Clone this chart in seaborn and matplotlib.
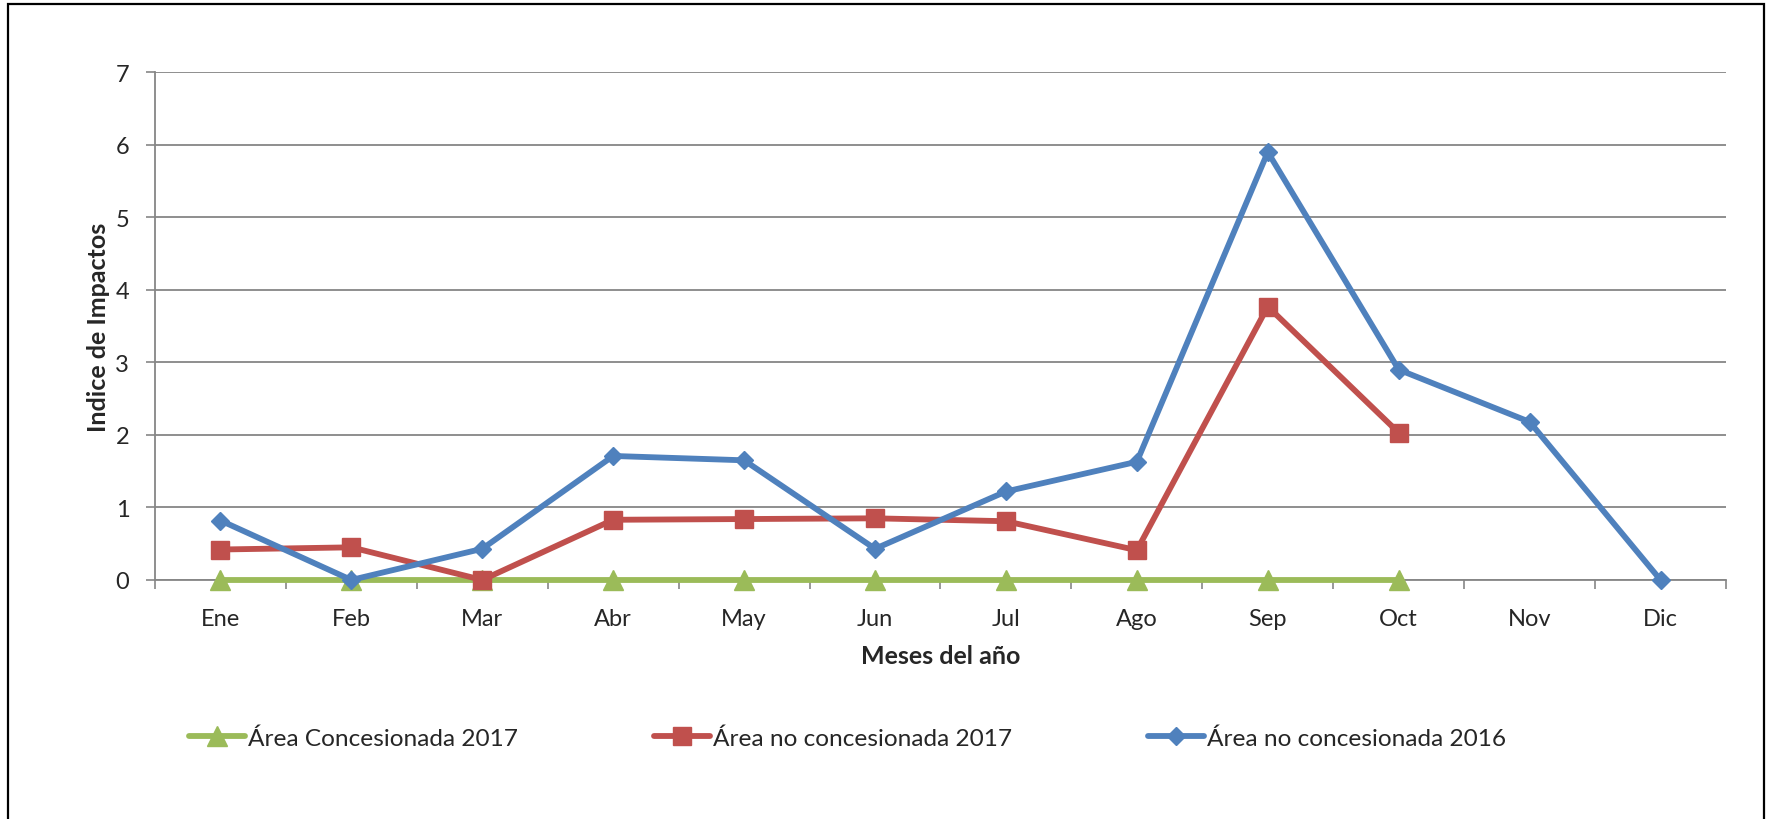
import numpy as np
import pandas as pd
import matplotlib
matplotlib.use("Agg")
import matplotlib.pyplot as plt
import seaborn as sns
from matplotlib.patches import Rectangle

# Data
meses = ["Ene", "Feb", "Mar", "Abr", "May", "Jun", "Jul", "Ago", "Sep", "Oct", "Nov", "Dic"]
concesionada_2017 = [0, 0, 0, 0, 0, 0, 0, 0, 0, 0, np.nan, np.nan]
no_concesionada_2017 = [0.42, 0.45, 0.0, 0.83, 0.84, 0.85, 0.81, 0.41, 3.77, 2.03, np.nan, np.nan]
no_concesionada_2016 = [0.82, 0.0, 0.43, 1.71, 1.65, 0.43, 1.22, 1.63, 5.90, 2.90, 2.18, 0.0]

series = [
    ("Área Concesionada 2017", concesionada_2017, "#9BBB59", "^", 14),
    ("Área no concesionada 2017", no_concesionada_2017, "#C0504D", "s", 13.5),
    ("Área no concesionada 2016", no_concesionada_2016, "#4F81BD", "D", 9.5),
]

sns.set_style("white")
plt.rcParams['font.family'] = ['Lato', 'DejaVu Sans']
FS = 17
FS_LEG = 17.6
FS_LAB = 18

fig = plt.figure(figsize=(17.67, 8.2), dpi=100)
ax = fig.add_axes([0.0877, 0.2915, 0.8891, 0.6191])

pos = np.arange(len(meses))
for name, vals, color, marker, ms in series:
    df = pd.DataFrame({"mes": pos, "valor": vals})
    sns.lineplot(data=df, x="mes", y="valor", ax=ax, color=color, linewidth=4.2,
                 marker=marker, markersize=ms, markeredgecolor=color,
                 markeredgewidth=1, label=name, clip_on=False, zorder=3)

grid_col = "#868686"
ax.set_xlim(-0.5, 11.5)
ax.set_ylim(0, 7)
ax.set_yticks(range(0, 8))
ax.yaxis.grid(True, color=grid_col, lw=1.3)
ax.xaxis.grid(False)
ax.set_axisbelow(True)

ax.set_xticks(pos)
ax.set_xticklabels(meses)
ax.set_xticks(np.arange(-0.5, 12, 1), minor=True)
ax.tick_params(axis="x", which="major", length=0, pad=20, labelsize=FS)
ax.tick_params(axis="x", which="minor", length=6.5, width=1.2, color=grid_col, direction="out", bottom=True)
ax.tick_params(axis="y", length=6.5, width=1.2, color=grid_col, direction="out", left=True, pad=12, labelsize=FS)

for s in ["top", "right"]:
    ax.spines[s].set_visible(False)
for s in ["left", "bottom"]:
    ax.spines[s].set_color(grid_col)
    ax.spines[s].set_linewidth(1.3)

ax.set_xlabel("Meses del año", fontsize=FS_LAB, weight="bold", va="top")
ax.xaxis.set_label_coords(0.5, -0.126)
ax.set_ylabel("Indice de Impactos", fontsize=FS_LAB, weight="bold", va="center")
ax.yaxis.set_label_coords(-0.036, 0.5)

ax.legend_.remove()
handles, labels = ax.get_legend_handles_labels()
fig.legend(handles, labels, loc="center left", bbox_to_anchor=(189 / 1767, 1 - 739 / 820),
           ncol=3, frameon=False, fontsize=FS_LEG, handlelength=2.3, handletextpad=0.12,
           columnspacing=5.55, borderpad=0, borderaxespad=0)

# outer frame of the chart area
fig.patches.append(Rectangle((8 / 1767, -0.01), (1764 - 8) / 1767, 1.01 - 5 / 820,
                             transform=fig.transFigure, fill=False, ec="black", lw=1.6))

fig.savefig("out.png", dpi=100)
